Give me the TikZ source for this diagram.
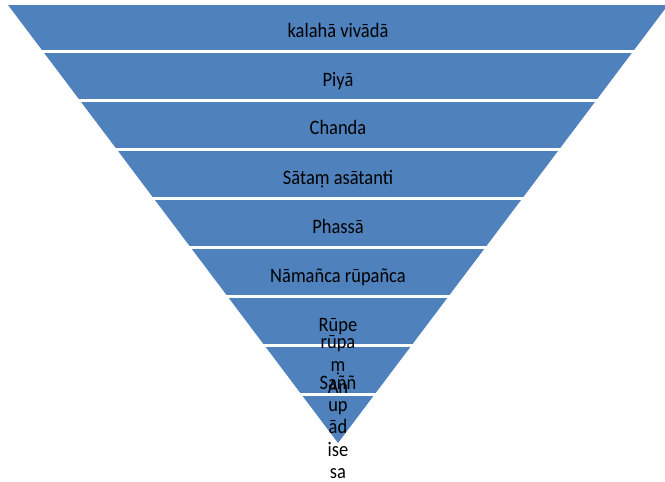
\documentclass[tikz,border=0pt]{standalone}
\usepackage{fontspec}
\setmainfont{Carlito}[FakeStretch=0.9]
\definecolor{bandblue}{HTML}{4F81BD}
\begin{document}
\begin{tikzpicture}[x=1pt,y=-1pt,
  lbl/.style={font=\fontsize{20.5}{22.3}\selectfont, inner sep=0pt, anchor=base, text=black},
  gapline/.style={white, line width=3pt}]
\useasboundingbox (0,0) rectangle (665,482);
\coordinate (tl) at (8,5);
\coordinate (tr) at (668,5);
\coordinate (ap) at (338,443);
\begin{scope}
  \clip (0,0) rectangle (665,482);
  \fill[bandblue] (tl) -- (tr) -- (ap) -- cycle;
  \foreach \g in {51.5,100.5,149.5,198.5,247.5,296.5,345.5,394.5}
    \draw[gapline] (0,\g) -- (665,\g);
\end{scope}
\node[lbl] (t1) at (338,37.5) {kalahā vivādā};
\node[lbl] (t2) at (338,86) {Piyā};
\node[lbl] (t3) at (338,134.5) {Chanda};
\node[lbl] (t4) at (338,184.5) {Sātaṃ asātanti};
\node[lbl] (t5) at (338,233) {Phassā};
\node[lbl] (t6) at (338,282) {Nāmañca rūpañca};
\node[lbl] (t7) at (338,331.5) {Rūpe};
\node[lbl] (t8a) at (338,348.5) {rūpa};
\node[lbl] (t8b) at (338,371) {ṃ};
\node[lbl] (t8c) at (338,393) {An};
\node[lbl] (t9a) at (338,389) {Saññ};
\node[lbl] (t9b) at (338,411) {up};
\node[lbl] (t9c) at (338,433.5) {ād};
\node[lbl] (t9d) at (338,456) {ise};
\node[lbl] (t9e) at (338,478) {sa};
\end{tikzpicture}
\end{document}
